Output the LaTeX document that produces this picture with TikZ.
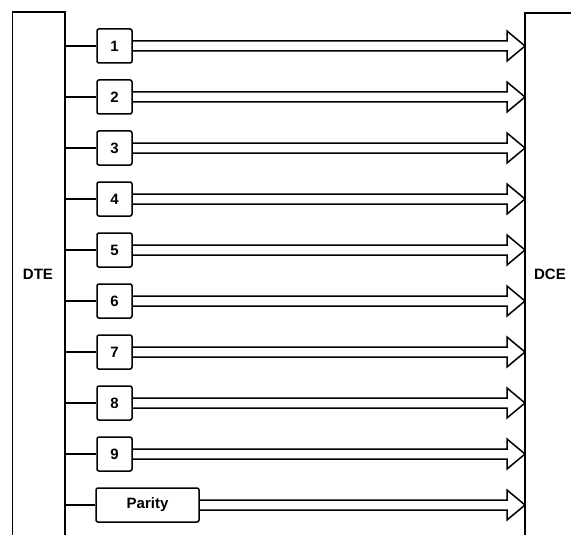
\documentclass[tikz,border=0pt]{standalone}
\usepackage{fontspec}
\setmainfont{Liberation Sans}
\begin{document}
\begin{tikzpicture}[x=1pt,y=-1pt,line width=1.5pt,line join=miter,
  sig/.style={draw,rounded corners=2pt,minimum width=35pt,minimum height=34pt,inner sep=0pt,font=\fontsize{15}{17}\selectfont\bfseries},
  lbl/.style={font=\fontsize{15}{17}\selectfont\bfseries,inner sep=0pt}]
\useasboundingbox (0,0) rectangle (571,535);
% DTE and DCE blocks
\node[minimum width=51pt,minimum height=522pt,inner sep=0pt] (dte) at (38.5,274) {};
\node[lbl] (dtel) at (38,274) {DTE};
\node[lbl] (dcel) at (550,274) {DCE};
\coordinate (dcetop) at (525,13);
\draw (dte.south west) -- (dte.north west) -- (dte.north east) -- (dte.south east);
\draw (571,13) -- (dcetop) -- (525,535);
% signal lines
\foreach \i in {1,...,9}{
  \pgfmathsetmacro{\yc}{46+(\i-1)*51}
  \node[sig] (b\i) at (114.5,\yc) {\i};
  \coordinate (t\i) at (525,\yc);
  \draw (dte.east |- b\i.west) -- (b\i.west);
  \draw ([shift={(0,-5)}]b\i.east) -- ([shift={(-18,-5)}]t\i) -- ([shift={(-18,-15)}]t\i) -- (t\i)
        -- ([shift={(-18,15)}]t\i) -- ([shift={(-18,5)}]t\i) -- ([shift={(0,5)}]b\i.east);
}
\node[sig,minimum width=103pt] (bp) at (147.5,505) {Parity};
\coordinate (tp) at (525,505);
\draw (dte.east |- bp.west) -- (bp.west);
\draw ([shift={(0,-5)}]bp.east) -- ([shift={(-18,-5)}]tp) -- ([shift={(-18,-15)}]tp) -- (tp)
      -- ([shift={(-18,15)}]tp) -- ([shift={(-18,5)}]tp) -- ([shift={(0,5)}]bp.east);
\end{tikzpicture}
\end{document}
